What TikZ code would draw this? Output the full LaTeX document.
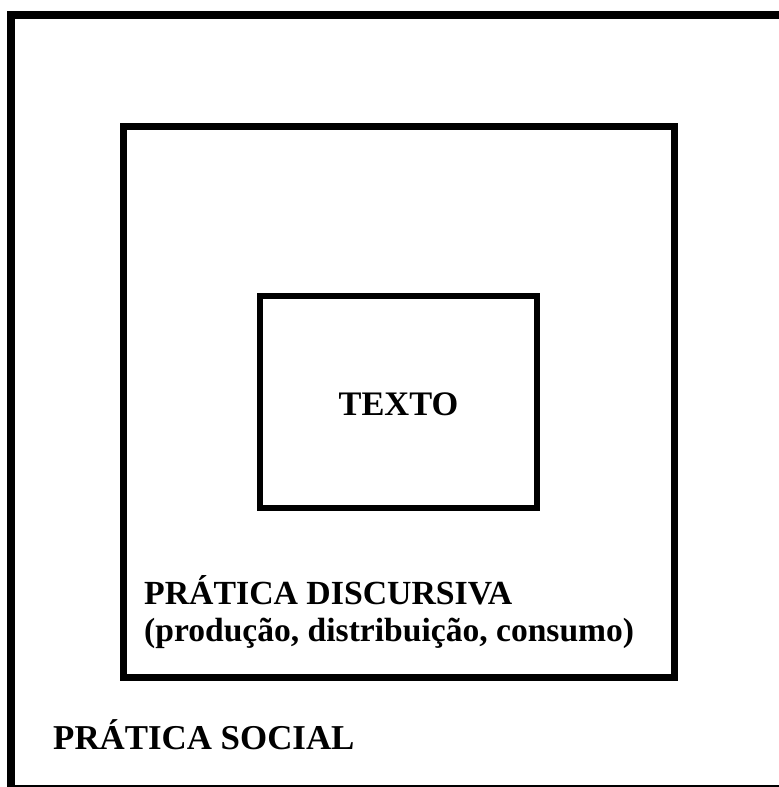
\documentclass[tikz,border=0pt]{standalone}
\usepackage{fontspec}
\setmainfont{Liberation Serif}
\begin{document}
\begin{tikzpicture}[x=1bp,y=-1bp,
  lbl/.style={font=\bfseries\fontsize{34}{37}\selectfont, inner sep=0pt, anchor=base west},
  frame/.style={draw=black, line join=miter}]
\useasboundingbox (0,0) rectangle (779,787);
% outer practice (social)
\draw[frame, line width=8bp] (11,787) -- (11,15) -- (779,15);
\draw[line width=1.5bp] (7,786) -- (779,786);
% discursive practice
\draw[frame, line width=7bp] (123.5,126.5) rectangle (674.5,677.5);
% text
\draw[frame, line width=6bp] (260.3,296.3) rectangle (537,508.3);
\node[lbl, anchor=base, font=\bfseries\fontsize{34.5}{37}\selectfont] (texto) at (398.5,415) {TEXTO};
\node[lbl, font=\bfseries\fontsize{33.9}{37}\selectfont] (pd) at (144,604) {PRÁTICA DISCURSIVA};
\node[lbl, font=\bfseries\fontsize{33.7}{37}\selectfont] (pd2) at (144,641) {(produção, distribuição, consumo)};
\node[lbl, font=\bfseries\fontsize{35}{37}\selectfont] (ps) at (53,749) {PRÁTICA SOCIAL};
\end{tikzpicture}
\end{document}
